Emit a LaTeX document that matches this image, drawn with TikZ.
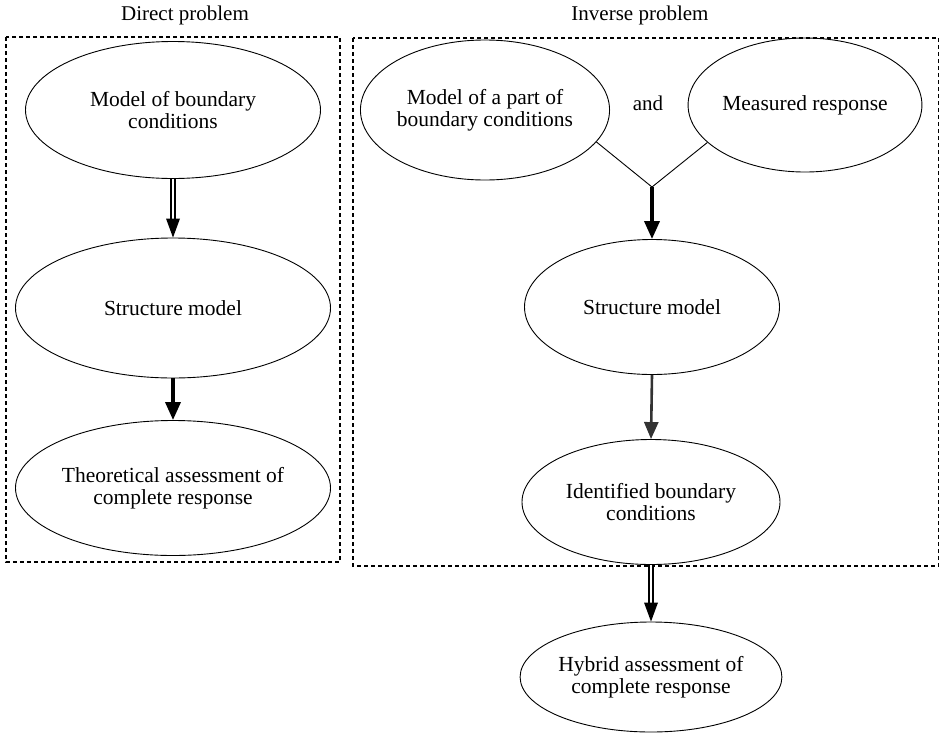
\documentclass[tikz,border=0pt]{standalone}
\usepackage{fontspec}
\setmainfont{Liberation Serif}
\usetikzlibrary{arrows.meta,shapes.geometric}
\begin{document}
\begin{tikzpicture}[x=1pt,y=-1pt,
  el/.style={draw,line width=0.9pt,ellipse,inner sep=0pt,align=center,font=\fontsize{21.5}{22}\selectfont},
  ttl/.style={font=\fontsize{21}{22}\selectfont},
  dbox/.style={draw,dashed,line width=1.2pt,dash pattern=on 4pt off 3pt},
  dblarrow/.style={double,double distance=2.6pt,line width=1.5pt,shorten >=17pt},
  thickarrow/.style={line width=3.5pt,-{Triangle[length=18pt,width=15pt]}},
  midarrow/.style={line width=2.6pt,draw=black!80,-{Triangle[length=17pt,width=14pt]}}
]
\useasboundingbox (0,0) rectangle (939,734);
\node[ttl] (t1) at (185,15) {Direct problem};
\node[ttl] (t2) at (640,15) {Inverse problem};
\draw[dbox] (6,37) rectangle (340,562);
\draw[dbox] (353,38) rectangle (939,566);

\node[el,minimum width=295pt,minimum height=137pt] (a1) at (173,110) {Model of boundary\\conditions};
\node[el,minimum width=315pt,minimum height=140pt] (a2) at (173,308) {Structure model};
\node[el,minimum width=315pt,minimum height=135pt] (a3) at (173,488) {Theoretical assessment of\\complete response};

\node[el,minimum width=240pt,minimum height=140pt] (b1) at (485,110) {Model of a part of\\boundary conditions};
\node[ttl] (and) at (648,103) {and};
\node[el,minimum width=232pt,minimum height=134pt] (b2) at (805,105) {Measured response};
\coordinate (j) at (652,187);
\node[el,minimum width=255pt,minimum height=135pt] (b3) at (652,307) {Structure model};
\node[el,minimum width=258pt,minimum height=125pt] (b4) at (651,502) {Identified boundary\\conditions};
\node[el,minimum width=255pt,minimum height=110pt] (b5) at (651,677) {Hybrid assessment of\\complete response};

\draw[dblarrow] (a1.south) -- (a2.north);
\fill ([yshift=19pt,xshift=-7pt]a2.north) -- (a2.north) -- ([yshift=19pt,xshift=7pt]a2.north) -- cycle;
\draw[thickarrow] (a2.south) -- (a3.north);
\draw[line width=0.9pt] (b1.-16.5) -- (j) -- (b2.-159);
\draw[thickarrow] (j) -- (b3.north);
\draw[midarrow] (b3.south) -- (b4.north);
\draw[dblarrow] (b4.south) -- (b5.north);
\fill ([yshift=19pt,xshift=-7pt]b5.north) -- (b5.north) -- ([yshift=19pt,xshift=7pt]b5.north) -- cycle;
\end{tikzpicture}
\end{document}
